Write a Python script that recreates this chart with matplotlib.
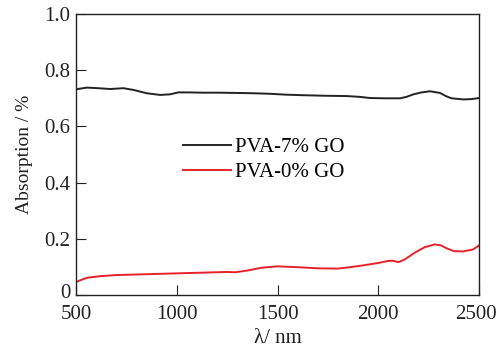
import numpy as np
from matplotlib import pyplot as plt
from matplotlib.transforms import ScaledTranslation

# wavelength (nm) and absorption
wl_7 = [500, 553, 610, 669, 735, 784, 851, 917, 966, 1008, 1060, 1132, 1210, 1297, 1380,
        1463, 1540, 1628, 1740, 1843, 1910, 1959, 2030, 2108, 2140, 2174, 2215, 2257,
        2307, 2335, 2364, 2422, 2460, 2500]
abs_7 = [0.732, 0.738, 0.736, 0.733, 0.736, 0.730, 0.718, 0.712, 0.714, 0.721, 0.721, 0.720,
         0.720, 0.719, 0.718, 0.716, 0.713, 0.711, 0.709, 0.708, 0.705, 0.701, 0.700, 0.700,
         0.705, 0.714, 0.721, 0.725, 0.719, 0.708, 0.700, 0.696, 0.697, 0.701]

wl_0 = [500, 530, 560, 620, 700, 850, 1000, 1150, 1250, 1290, 1350, 1420, 1500, 1600, 1700,
        1800, 1860, 1930, 2000, 2048, 2070, 2100, 2130, 2180, 2230, 2280, 2310, 2340, 2375,
        2420, 2470, 2500]
abs_0 = [0.046, 0.055, 0.062, 0.067, 0.071, 0.074, 0.077, 0.080, 0.082, 0.081, 0.087, 0.097,
         0.102, 0.099, 0.095, 0.094, 0.099, 0.106, 0.114, 0.121, 0.122, 0.117, 0.126, 0.150,
         0.170, 0.180, 0.177, 0.166, 0.156, 0.155, 0.162, 0.176]

x_ticks = [500, 1000, 1500, 2000, 2500]
y_ticks = [0, 0.2, 0.4, 0.6, 0.8, 1.0]
y_labels = ['0', '0.2', '0.4', '0.6', '0.8', '1.0']

plt.rcParams['font.family'] = ['Liberation Serif', 'DejaVu Serif']

fig = plt.figure(figsize=(4.98, 3.5), dpi=100)
ax = fig.add_axes([76/498, 1 - 295/350, (479-76)/498, (295-14)/350])

ax.plot(wl_7, abs_7, color='#222222', lw=1.4, label='PVA-7% GO')
ax.plot(wl_0, abs_0, color='#e8202a', lw=1.4, label='PVA-0% GO')

ax.set_xlim(500, 2500)
ax.set_ylim(0, 1.0)
ax.set_xticks(x_ticks)
ax.set_yticks(y_ticks)
ax.set_yticklabels(y_labels)
ax.tick_params(direction='in', length=7, width=0.8, labelsize=15, colors='#222222',
               top=False, right=False)
ax.tick_params(axis='x', pad=7)
ax.tick_params(axis='y', pad=4)
for s in ax.spines.values():
    s.set_linewidth(1.0)
    s.set_color('#222222')

# the "0" sits a little above the x axis in the original
lbl0 = ax.get_yticklabels()[0]
lbl0.set_transform(lbl0.get_transform() + ScaledTranslation(0, 4/100, fig.dpi_scale_trans))
# keep "2500" inside the image
lbl_end = ax.get_xticklabels()[-1]
lbl_end.set_transform(lbl_end.get_transform() + ScaledTranslation(-3/100, 0, fig.dpi_scale_trans))

ax.set_xlabel('λ/ nm', fontsize=15, color='#222222', labelpad=4)
ax.set_ylabel('Absorption / %', fontsize=14, color='#222222', labelpad=8)

ax.legend(loc='center left', bbox_to_anchor=(0.22, 0.481), frameon=False,
          fontsize=15, handlelength=2.3, handletextpad=0.2, labelspacing=0.25)

fig.savefig('out.png', dpi=100)
